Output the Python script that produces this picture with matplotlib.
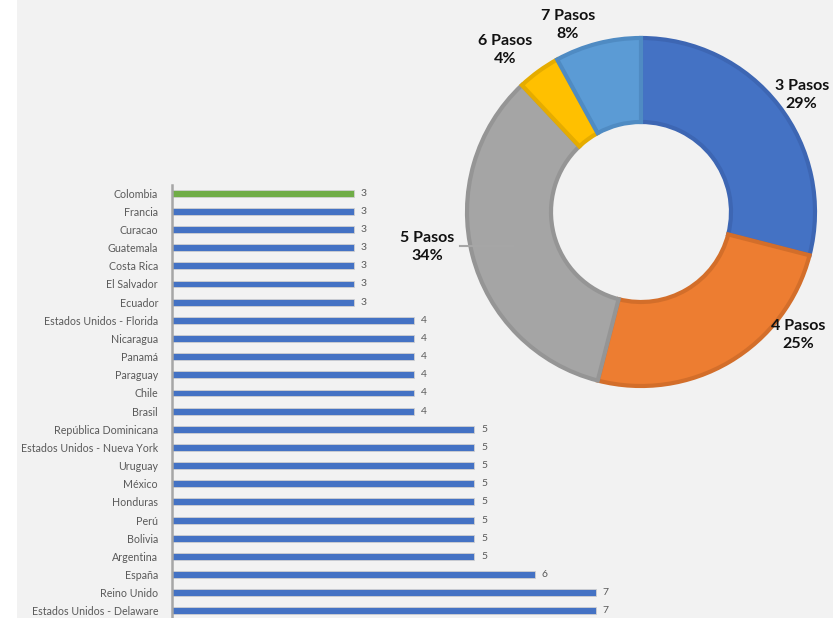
import matplotlib
matplotlib.use('Agg')
import matplotlib.pyplot as plt
from matplotlib.patches import Rectangle

plt.rcParams['font.family'] = ['Lato', 'DejaVu Sans']

# bar chart data (top to bottom)
countries = ['Colombia', 'Francia', 'Curacao', 'Guatemala', 'Costa Rica', 'El Salvador',
             'Ecuador', 'Estados Unidos - Florida', 'Nicaragua', 'Panamá', 'Paraguay',
             'Chile', 'Brasil', 'República Dominicana', 'Estados Unidos - Nueva York',
             'Uruguay', 'México', 'Honduras', 'Perú', 'Bolivia', 'Argentina', 'España',
             'Reino Unido', 'Estados Unidos - Delaware']
pasos = [3, 3, 3, 3, 3, 3, 3, 4, 4, 4, 4, 4, 4, 5, 5, 5, 5, 5, 5, 5, 5, 6, 7, 7]
highlight = 'Colombia'

# donut data
pie_labels = ['3 Pasos', '4 Pasos', '5 Pasos', '6 Pasos', '7 Pasos']
pie_shares = [29, 25, 34, 4, 8]
pie_pct = ['29%', '25%', '34%', '4%', '8%']

pie_colors = ['#4472C4', '#ED7D31', '#A5A5A5', '#FFC000', '#5B9BD5']
pie_edges = ['#3D66B3', '#D36E2A', '#959595', '#E5AC00', '#4F8BC3']
label_pos = [(0.913, 0.665), (0.892, -0.699), (-1.216, -0.197), (-0.773, 0.92), (-0.415, 1.062)]

W, H = 833, 618
bg = '#F2F2F2'
fig = plt.figure(figsize=(W / 100, H / 100), dpi=100, facecolor=bg)
fig.patches.append(Rectangle((0, 0), 17 / W, 1, transform=fig.transFigure,
                             facecolor='white', edgecolor='none', zorder=-1))

# ---- horizontal bars
px_unit = 60.5
ax = fig.add_axes([172 / W, 0, (W - 172) / W, 1 - 185 / H])
ax.set_facecolor('none')
ypos = list(range(len(countries)))
bar_colors = ['#70AD47' if c == highlight else '#4472C4' for c in countries]
ax.barh(ypos, pasos, height=0.38, color=bar_colors, edgecolor='#D0D0D0', linewidth=0.6)
for y, v in zip(ypos, pasos):
    ax.text(v + 7 / px_unit, y, str(v), va='center', ha='left', fontsize=7.5, color='#595959')
ax.set_xlim(0, (W - 172) / px_unit)
ax.set_ylim(23.39, -0.45)
ax.set_yticks(ypos)
ax.set_yticklabels(countries, fontsize=7.7, color='#595959')
ax.tick_params(axis='y', length=0, pad=10)
ax.set_xticks([])
for s in ['top', 'right', 'bottom']:
    ax.spines[s].set_visible(False)
ax.spines['left'].set_color('#A6A6A6')
ax.spines['left'].set_linewidth(1.8)

# ---- donut
cx, cy, r = 641, 212, 176
half = 200
pax = fig.add_axes([(cx - half) / W, (H - cy - half) / H, 2 * half / W, 2 * half / H])
pax.set_facecolor('none')
# shrink a bit so the border sits inside the ring, like the original
inset = 2 / r
wedges, _ = pax.pie(pie_shares, colors=pie_colors, startangle=90, counterclock=False,
                    radius=1 - inset, wedgeprops=dict(width=0.5 - 2 * inset, linewidth=3))
for w, ec in zip(wedges, pie_edges):
    w.set_edgecolor(ec)
pax.set_xlim(-half / r, half / r)
pax.set_ylim(-half / r, half / r)
pax.axis('off')

for lab, pct, (x, y) in zip(pie_labels, pie_pct, label_pos):
    pax.text(x, y, lab + '\n' + pct, ha='center', va='center', fontsize=11.5,
             fontweight='bold', color='#111111', linespacing=1.35)
# leader line for 5 Pasos
pax.plot([-1.028, -0.727], [-0.193, -0.193], color='#A6A6A6', linewidth=1.5, clip_on=False)

fig.savefig('out.png', dpi=100, facecolor=bg)
